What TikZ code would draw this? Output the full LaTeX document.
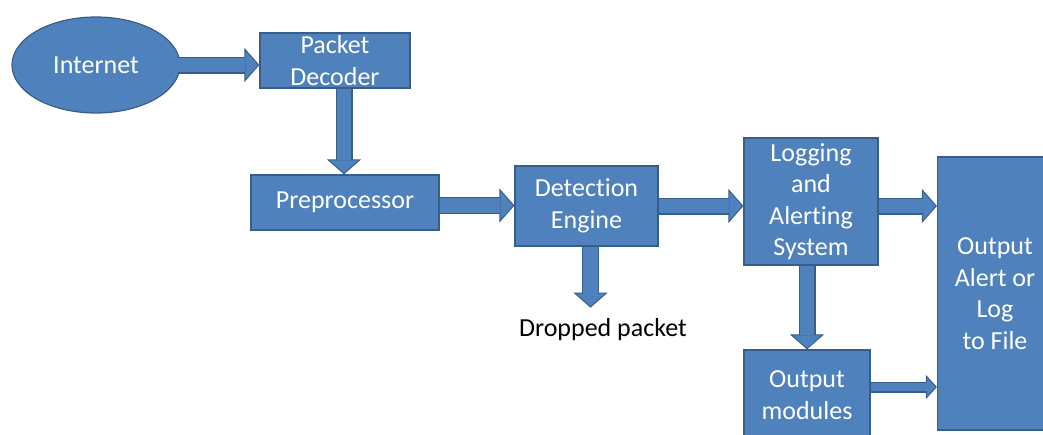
\documentclass[tikz,border=0pt]{standalone}
\usepackage{fontspec}
\setmainfont{Carlito}[Ligatures=NoCommon]
\usetikzlibrary{arrows.meta,shapes.geometric}
\definecolor{boxblue}{RGB}{79,129,189}
\definecolor{edgeblue}{RGB}{56,93,138}

\begin{document}
\begin{tikzpicture}[x=1pt, y=-1pt, node distance=240pt,
    box/.style={rectangle, draw=edgeblue, line width=1.2pt, fill=boxblue, text=white, align=center, inner sep=0pt, font=\fontsize{26}{31.5}\selectfont},
    flow/.style={line width=17pt, draw=edgeblue, -{Triangle[width=34pt,length=15pt,line width=1pt,fill=boxblue]}, postaction={draw=boxblue, line width=14.6pt, -, shorten >=14pt}},
    flowsmall/.style={line width=11pt, draw=edgeblue, -{Triangle[width=24pt,length=11pt,line width=1pt,fill=boxblue]}, postaction={draw=boxblue, line width=8.6pt, -, shorten >=10pt}}]

    \clip (0,0) rectangle (1043,434);
    % Place nodes
    \node [box, ellipse, minimum width=168pt, minimum height=96pt] (inet) at (96,65) {Internet};
    \node [box, minimum width=150pt, minimum height=55pt, right of=inet, node distance=239pt, yshift=4.5pt] (dec) {Packet\\Decoder};
    \node [box, minimum width=188pt, minimum height=55pt, below of=dec, node distance=142pt, xshift=10pt] (pre) {Preprocessor};
    \node [box, minimum width=143pt, minimum height=80pt, right of=pre, node distance=241.5pt, yshift=-3.5pt] (det) {Detection\\Engine};
    \node [box, minimum width=134pt, minimum height=127pt, right of=det, node distance=224.5pt, yshift=4.5pt] (log) {Logging\\and\\Alerting\\System};
    \node [box, minimum width=126pt, minimum height=90pt, below of=log, node distance=193.5pt, xshift=-4pt] (outmod) {Output\\modules};
    \node [box, minimum width=115pt, minimum height=273pt, right of=log, node distance=184pt, yshift=-92pt] (outf) {Output\\Alert or\\Log\\to File};
    \node [below of=det, node distance=124pt, xshift=16.5pt, inner sep=0pt, font=\fontsize{26}{31.5}\selectfont] (drop) {Dropped packet};
    \coordinate (droptip) at ([yshift=11pt]drop.north);

    % Block arrows
    \draw [flow] ([xshift=-3pt]inet.east) -- (inet.east -| dec.west);
    \draw [flow] ([xshift=9pt]dec.south) -- ([xshift=9pt]dec.south |- pre.north);
    \draw [flow] ([yshift=-3pt]pre.east) -- ([yshift=-3pt]pre.east -| det.west);
    \draw [flow] ([xshift=4pt]det.south) -- ([xshift=4pt]det.south |- droptip);
    \draw [flow] (det.east) -- (det.east -| log.west);
    \draw [flow] ([yshift=-4.5pt]log.east) -- ([yshift=-4.5pt]log.east -| outf.west);
    \draw [flow] (log.south -| outmod.north) -- (outmod.north);
    \draw [flowsmall] ([yshift=8pt]outmod.east) -- ([yshift=8pt]outmod.east -| outf.west);
\end{tikzpicture}
\end{document}
